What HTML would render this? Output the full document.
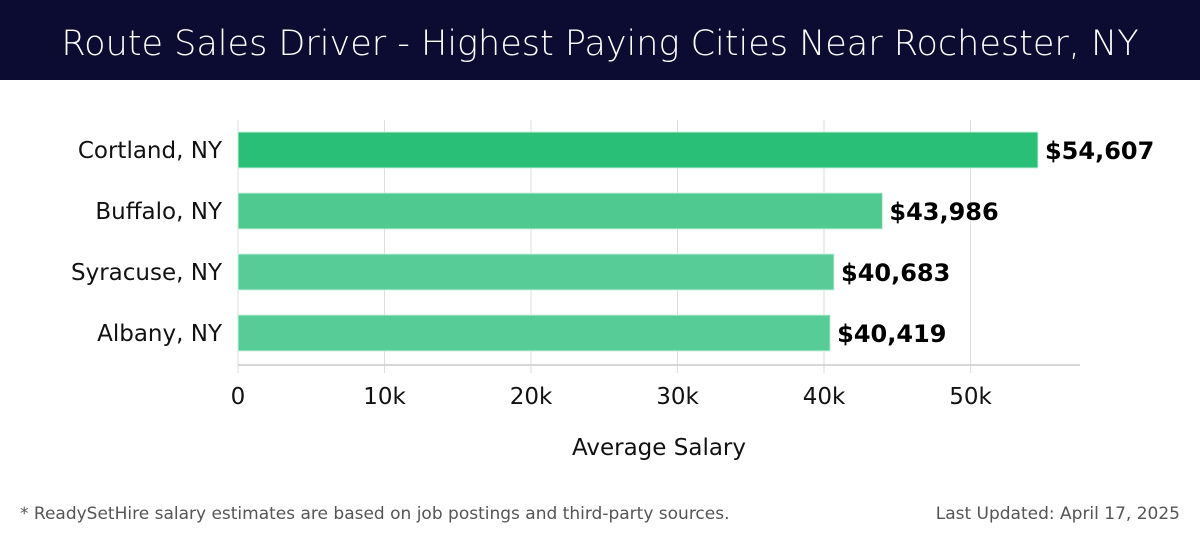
<!DOCTYPE html>
<html><head><meta charset="utf-8"><style>
body{margin:0;width:1200px;height:540px;background:#fff;font-family:"Liberation Sans","DejaVu Sans",sans-serif;overflow:hidden}
</style></head><body>
<svg width="1200" height="540">
<rect x="0" y="0" width="1200" height="80" fill="#0c0c33"/>
<text x="600" y="55" text-anchor="middle" font-size="35" fill="#fff" font-family="DejaVu Sans, sans-serif" font-weight="300">Route Sales Driver - Highest Paying Cities Near Rochester, NY</text>
<g id="grid"></g><g id="bars"></g>
<text x="659" y="455" text-anchor="middle" font-size="23" fill="#111" font-family="DejaVu Sans, sans-serif">Average Salary</text>
<text x="20" y="519" font-size="17" fill="#555" font-family="DejaVu Sans, sans-serif">* ReadySetHire salary estimates are based on job postings and third-party sources.</text>
<text x="1180" y="519" text-anchor="end" font-size="17" fill="#555" font-family="DejaVu Sans, sans-serif">Last Updated: April 17, 2025</text>
</svg>
<script>
const categories=["Cortland, NY","Buffalo, NY","Syracuse, NY","Albany, NY"];
const values=[54607,43986,40683,40419];
const valueLabels=["$54,607","$43,986","$40,683","$40,419"];
const ticks=[0,10000,20000,30000,40000,50000];
const tickLabels=["0","10k","20k","30k","40k","50k"];
const colors=["#29bf77","#4fc98f","#57cc97","#57cc97"];
const NS="http://www.w3.org/2000/svg";
const x0=238,pxPer=146.5/10000,plotTop=120,band=61,barH=36;
const xs=v=>x0+v*pxPer;
function mk(t,a,p){const e=document.createElementNS(NS,t);for(const k in a)e.setAttribute(k,a[k]);p.appendChild(e);return e;}
const g=document.getElementById('grid'),b=document.getElementById('bars');
ticks.forEach((t,i)=>{
 const l=mk('line',{x1:xs(t),x2:xs(t),y1:plotTop,y2:373,stroke:'#ddd','stroke-width':1},g);
 
 
 const tx=mk('text',{x:xs(t),y:404,'text-anchor':'middle','font-size':23,fill:'#111','font-family':'DejaVu Sans, sans-serif'},g);
 tx.textContent=tickLabels[i];
 
 
});
const ax=mk('line',{x1:x0,x2:1080,y1:365,y2:365,stroke:'#ccc','stroke-width':1.5},g);


categories.forEach((c,i)=>{
 const y=plotTop+12+i*band;
 const r=mk('rect',{x:x0,y:y,width:xs(values[i])-x0,height:barH,fill:colors[i],stroke:'#c8f0dc','stroke-width':1},b);
 
 
 const lb=mk('text',{x:222,y:y+26,'text-anchor':'end','font-size':23,fill:'#111','font-family':'DejaVu Sans, sans-serif'},b);
 lb.textContent=c;
 
 
 const vl=mk('text',{x:xs(values[i])+7,y:y+27,'font-size':24,'font-weight':'bold',fill:'#000','font-family':'DejaVu Sans, sans-serif'},b);
 vl.textContent=valueLabels[i];
 
 
});
</script>
</body></html>
